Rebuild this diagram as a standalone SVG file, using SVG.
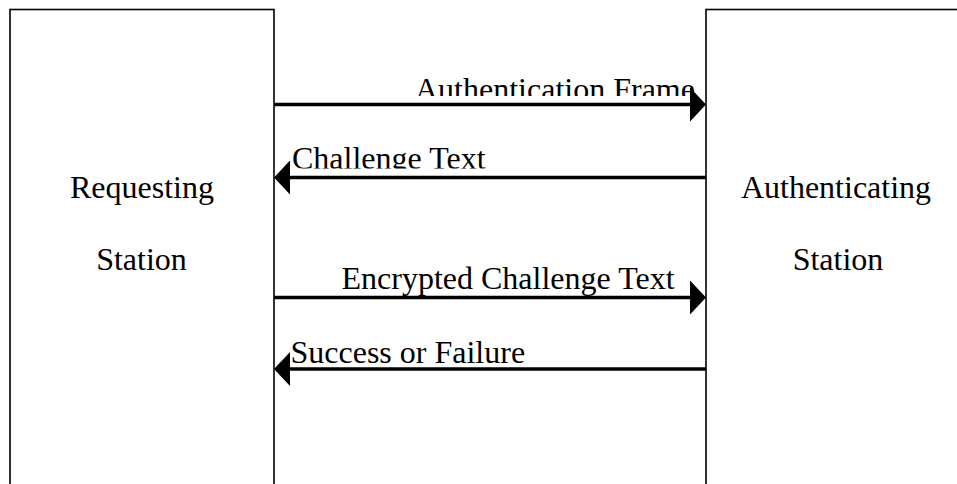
<svg xmlns="http://www.w3.org/2000/svg" width="957" height="484" viewBox="0 0 957 484">
  <style>
    .box { fill: #ffffff; stroke: #000000; stroke-width: 1.6; }
    .msg { stroke: #000000; stroke-width: 3.5; fill: none; }
    .lbl { font-family: "Liberation Serif", "Times New Roman", serif; font-size: 32px; fill: #000000; }
    .mid { text-anchor: middle; }
  </style>
  <defs>
    <marker id="head" markerUnits="userSpaceOnUse" markerWidth="16" markerHeight="34" refX="8" refY="17" orient="auto" viewBox="0 0 16 34">
      <path d="M0,0 L16,17 L0,34 Z" fill="#000000"/>
    </marker>
    <!-- label text boxes cut off their lower part -->
    <clipPath id="clipAuthFrame"><rect x="380" y="60" width="330" height="36"/></clipPath>
    <clipPath id="clipChallenge"><rect x="285" y="130" width="230" height="38.5"/></clipPath>
  </defs>

  <rect width="957" height="484" fill="#ffffff"/>

  <g id="requesting-station">
    <rect class="box" x="10" y="9.5" width="264" height="500"/>
    <text class="lbl mid" x="142" y="198">Requesting</text>
    <text class="lbl mid" x="141.5" y="270">Station</text>
  </g>

  <g id="authenticating-station">
    <rect class="box" x="706" y="9.5" width="280" height="500"/>
    <text class="lbl mid" x="836" y="198">Authenticating</text>
    <text class="lbl mid" x="838" y="270">Station</text>
  </g>

  <g id="connectors">
    <line class="msg" x1="274" y1="104.5" x2="698" y2="104.5" marker-end="url(#head)"/>
    <line class="msg" x1="706" y1="177.5" x2="282" y2="177.5" marker-end="url(#head)"/>
    <line class="msg" x1="274" y1="297.5" x2="698" y2="297.5" marker-end="url(#head)"/>
    <line class="msg" x1="706" y1="369" x2="282" y2="369" marker-end="url(#head)"/>
    <text class="lbl" x="415" y="99.5" clip-path="url(#clipAuthFrame)">Authentication Frame</text>
    <text class="lbl" x="292" y="169" clip-path="url(#clipChallenge)">Challenge Text</text>
    <text class="lbl" x="341.5" y="289">Encrypted Challenge Text</text>
    <text class="lbl" x="290.5" y="363">Success or Failure</text>
  </g>
</svg>
